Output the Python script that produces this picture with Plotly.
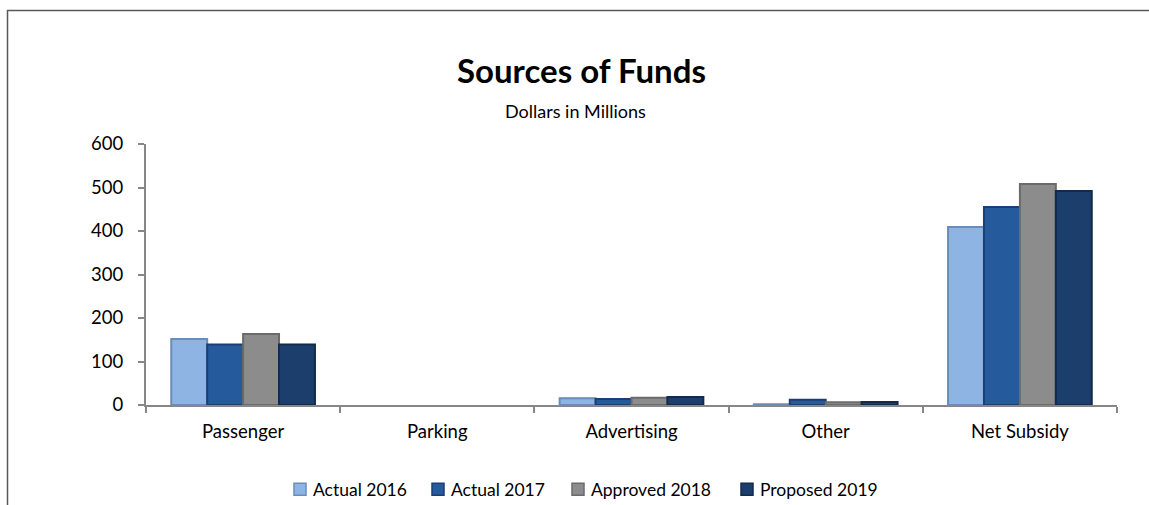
import plotly.graph_objects as go

categories = ["Passenger", "Parking", "Advertising", "Other", "Net Subsidy"]
series_names = ["Actual 2016", "Actual 2017", "Approved 2018", "Proposed 2019"]
actual_2016 = [152, 0, 15.5, 2, 409]
actual_2017 = [139, 0, 14, 12, 455]
approved_2018 = [163, 0, 16.5, 6.5, 508]
proposed_2019 = [139, 0, 18.5, 7, 492]
y_ticks = [0, 100, 200, 300, 400, 500, 600]

fills = ["#8EB4E3", "#255A9C", "#8C8C8C", "#1B3E6D"]
edges = ["#6A8CBD", "#1A3F73", "#6B6B6B", "#122B4D"]

W, H = 1149, 505
L, R, T, B = 146, 1117, 143.5, 405.5
FONT = "Lato"

pw, ph = R - L, B - T


def px(x):
    return (x - L) / pw


def py(y):
    return (B - y) / ph


fig = go.Figure()
for name, vals, fc, ec in zip(series_names,
                              [actual_2016, actual_2017, approved_2018, proposed_2019],
                              fills, edges):
    fig.add_trace(go.Bar(
        x=categories, y=vals, name=name, showlegend=False,
        marker=dict(color=fc,
                    line=dict(color=ec, width=[2 if v else 0 for v in vals])),
    ))

# outer chart frame (left and top edges visible)
fig.add_shape(type="path", xref="paper", yref="paper",
              path=f"M {px(7.5)} {py(520)} L {px(7.5)} {py(9.5)} L {px(1160)} {py(9.5)}",
              line=dict(color="#595959", width=1.5))

fig.add_annotation(text="<b>Sources of Funds</b>", xref="paper", yref="paper",
                   x=px(581), y=py(69), yanchor="middle", showarrow=False,
                   font=dict(family=FONT, size=33, color="#000000"))
fig.add_annotation(text="Dollars in Millions", xref="paper", yref="paper",
                   x=px(575), y=py(110), yanchor="middle", showarrow=False,
                   font=dict(family=FONT, size=18, color="#000000"))

# legend: square swatch followed by the series name
legend_left = [294, 432, 572, 741]
legend_y = 490
sw = 12
for name, fc, ec, lx in zip(series_names, fills, edges, legend_left):
    fig.add_shape(type="rect", xref="paper", yref="paper",
                  x0=px(lx), x1=px(lx + sw),
                  y0=py(legend_y + sw / 2), y1=py(legend_y - sw / 2),
                  fillcolor=fc, line=dict(color=ec, width=1.5))
    fig.add_annotation(text=name, xref="paper", yref="paper",
                       x=px(lx + sw + 5), y=py(legend_y), xanchor="left",
                       yanchor="middle", showarrow=False,
                       font=dict(family=FONT, size=17.5, color="#000000"))

fig.update_layout(
    width=W, height=H,
    margin=dict(l=L, r=W - R, t=T, b=H - B, autoexpand=False),
    paper_bgcolor="white", plot_bgcolor="white",
    barmode="group", bargap=0.26, bargroupgap=0,
    font=dict(family=FONT, size=18, color="#000000"),
    showlegend=False,
    xaxis=dict(showline=True, linecolor="#878787", linewidth=2,
               ticks="outside", ticklen=6, tickcolor="#878787", tickwidth=2,
               tickson="boundaries", showgrid=False, ticklabelstandoff=9,
               tickfont=dict(family=FONT, size=18.5)),
    yaxis=dict(range=[0, 600], tickvals=y_ticks, showline=True,
               linecolor="#878787", linewidth=2, ticks="outside", ticklen=6,
               tickcolor="#878787", tickwidth=2, showgrid=False, zeroline=False,
               ticklabelstandoff=11,
               tickfont=dict(family=FONT, size=18.5)),
)

fig.write_html("out.html")
